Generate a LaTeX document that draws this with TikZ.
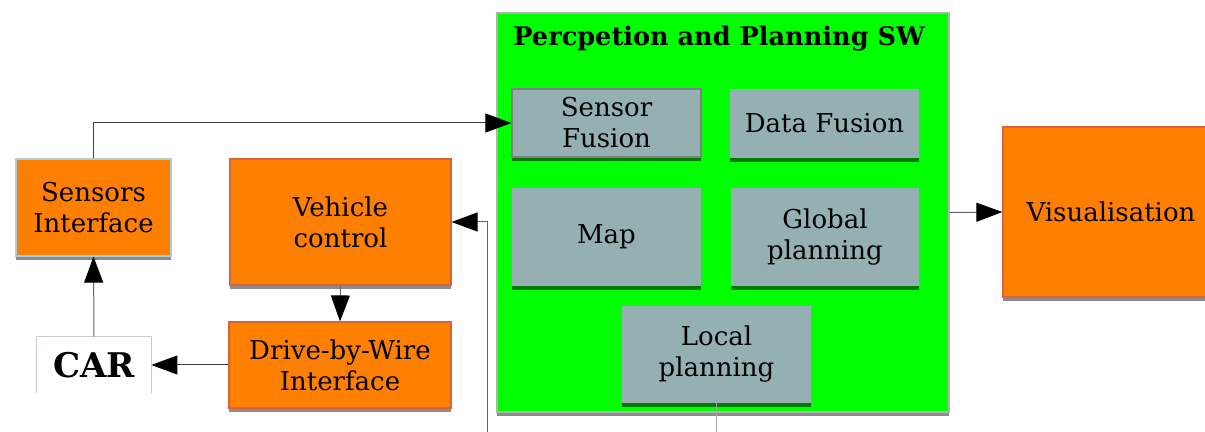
\documentclass[tikz,border=0pt]{standalone}
\usepackage{fontspec}
\setmainfont{DejaVu Serif}
\usetikzlibrary{arrows.meta,shadows}

\definecolor{blkorange}{HTML}{FF8000}
\definecolor{blkedge}{HTML}{D8643C}
\definecolor{swgreen}{HTML}{00FF00}
\definecolor{modgray}{HTML}{94B0B2}
\definecolor{modshadow}{HTML}{007A00}
\definecolor{boxshadow}{HTML}{8C8C8C}

\tikzset{
  >={Triangle[length=13pt,width=9.5pt,color=black]},
  txt/.style={font=\fontsize{13}{15.5}\selectfont, align=center, inner sep=0pt},
  blk/.style={txt, fill=blkorange, draw=blkedge, line width=0.6pt,
    drop shadow={shadow xshift=0pt, shadow yshift=-2pt, opacity=1, fill=boxshadow}},
  mod/.style={txt, fill=modgray, draw=none,
    drop shadow={shadow xshift=0pt, shadow yshift=-2pt, opacity=1, fill=modshadow}},
  swbox/.style={fill=swgreen, draw=black!30, line width=0.6pt, inner sep=0pt,
    drop shadow={shadow xshift=0pt, shadow yshift=-2pt, opacity=1, fill=boxshadow}},
  link/.style={black!60, line width=0.5pt},
}

\begin{document}
\begin{tikzpicture}[x=0.5pt, y=-0.5pt]
  \useasboundingbox (0,0) rectangle (1205,432);

  % vehicle side
  \node[blk, draw=black!30!cyan!40, minimum width=77.5pt, minimum height=48.5pt] (sensif) at (93.5,207.5) {Sensors\\Interface};
  \node[txt, minimum width=57pt, minimum height=28pt, font=\fontsize{17}{20}\selectfont\bfseries] (car) at (94,365) {CAR};
  \draw[blue!20!black!20, line width=0.6pt] (car.south west) -- (car.north west) -- (car.north east) -- (car.south east);
  \node[blk, minimum width=110.5pt, minimum height=63pt] (vehctl) at (340.5,222) {Vehicle\\control};
  \node[blk, minimum width=111pt, minimum height=43pt] (dbw) at (340,365) {Drive-by-Wire\\Interface};

  % software block
  \node[swbox, minimum width=226pt, minimum height=199.5pt] (pp) at (723,212.5) {};
  \node[txt, font=\fontsize{12.8}{15}\selectfont\bfseries, anchor=base west] (pptitle) at (513,46) {Percpetion and Planning SW};
  \node[mod, draw=black!50, line width=0.6pt, minimum width=94.5pt, minimum height=34pt] (sfus) at (606.5,123) {Sensor\\Fusion};
  \node[mod, minimum width=94.5pt, minimum height=34.5pt] (dfus) at (824.5,123.5) {Data Fusion};
  \node[mod, minimum width=94.5pt, minimum height=49pt] (map) at (606.5,237) {Map};
  \node[mod, minimum width=94pt, minimum height=49pt] (gplan) at (825,237) {Global\\planning};
  \node[mod, minimum width=94.5pt, minimum height=48.5pt] (lplan) at (716.5,354.5) {Local\\planning};

  \node[blk, minimum width=108pt, minimum height=85pt] (vis) at (1111,212) {Visualisation};

  % connectors
  \coordinate (ctlin) at (487,432);
  \coordinate (lpout) at (716.5,432);
  \draw[link, black!75, ->] (sensif.north) |- (sfus.west);
  \draw[link, ->] (car.north) -- (sensif.south);
  \draw[link, black!75, ->] (dbw.west) -- (car.east);
  \draw[link, ->] (vehctl.south) -- (dbw.north);
  \draw[link, ->] (ctlin) |- (vehctl.east);
  \draw[link, ->] (pp.east) -- (vis.west);
  \draw[link, black!35] (lplan.south) -- (lpout);
\end{tikzpicture}
\end{document}
